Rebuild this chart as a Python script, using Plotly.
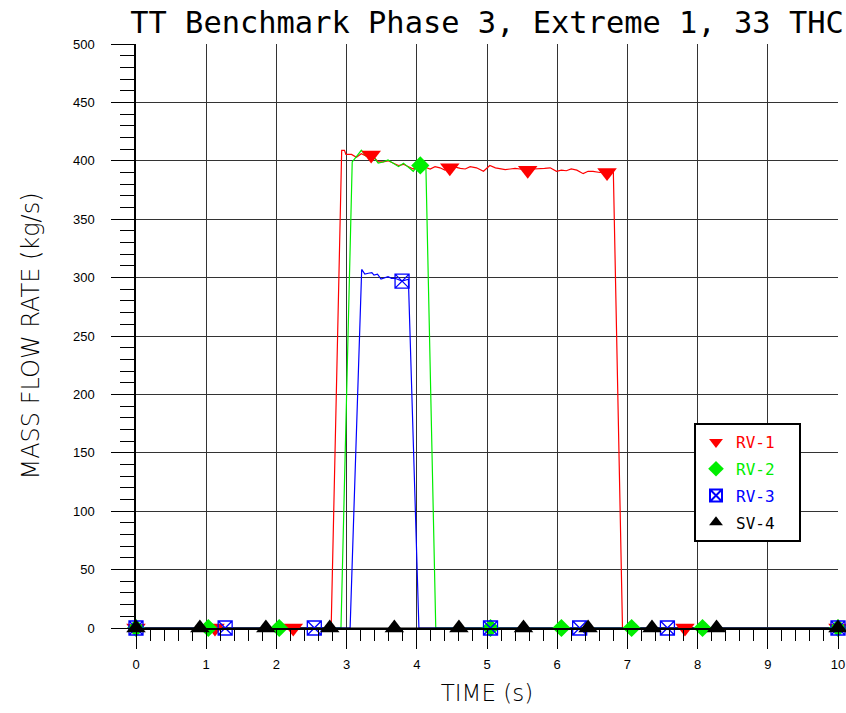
import plotly.graph_objects as go

# ---- data ----
t_rv1 = [0, 2.78, 2.93, 2.97, 2.99, 3.07, 3.14, 3.21, 3.28, 3.36, 3.45, 3.52, 3.59, 3.67, 3.74,
         3.81, 3.88, 3.95, 4.00, 4.05, 4.12, 4.19, 4.26, 4.33, 4.40, 4.47, 4.55, 4.62, 4.69,
         4.76, 4.85, 4.95, 5.04, 5.12, 5.19, 5.26, 5.33, 5.40, 5.47, 5.58, 5.66, 5.75, 5.82,
         5.90, 5.99, 6.06, 6.13, 6.20, 6.28, 6.37, 6.44, 6.51, 6.61, 6.70, 6.78, 6.80, 6.93, 10]
y_rv1 = [0, 0, 409, 409, 405.5, 405.5, 403, 406, 404, 405, 399, 399, 400, 398, 396,
         397, 395, 393, 395, 395, 394.5, 393, 395, 394, 392, 394, 394.5, 393.5, 393,
         395, 394, 391, 396, 394, 393, 392.5, 393, 393.5, 393, 392, 393, 393, 393.5,
         394, 391, 392, 391.5, 393, 392, 389, 391, 391, 390, 390, 391, 390, 0, 0]

t_rv2 = [0, 2.92, 3.08, 3.14, 3.21, 3.28, 3.36, 3.45, 3.52, 3.59, 3.67, 3.74, 3.81, 3.88,
         3.95, 4.00, 4.05, 4.13, 4.27, 10]
y_rv2 = [0, 0, 399, 403.5, 409, 404, 405, 398, 399, 400.7, 398, 395, 398, 394.5,
         391, 395, 396, 393.5, 0, 0]

t_rv3 = [0, 3.05, 3.215, 3.26, 3.31, 3.36, 3.39, 3.44, 3.49, 3.55, 3.59, 3.64, 3.69,
         3.79, 3.88, 4.03, 10]
y_rv3 = [0, 0, 307, 303, 303.7, 304.2, 302.2, 303, 298.8, 300.3, 300.8, 299.4, 299.4,
         297, 298.6, 0, 0]

t_sv4 = [0, 10]
y_sv4 = [0, 0]

# marker positions along each curve
mt_rv1 = [0, 1.125, 2.24, 3.35, 4.47, 5.58, 6.71, 7.82, 10]
my_rv1 = [0, 0, 0, 405, 394, 392, 390, 0, 0]
mt_rv2 = [0, 1.03, 2.04, 4.05, 5.05, 6.06, 7.06, 8.07, 10]
my_rv2 = [0, 0, 0, 396, 0, 0, 0, 0, 0]
mt_rv3 = [0, 1.27, 2.54, 3.79, 5.05, 6.32, 7.57, 10]
my_rv3 = [0, 0, 0, 297, 0, 0, 0, 0]
mt_sv4 = [0, 0.91, 1.85, 2.76, 3.68, 4.60, 5.52, 6.44, 7.35, 8.27, 10]
my_sv4 = [0] * 11

names = ["RV-1", "RV-2", "RV-3", "SV-4"]
colors = ["#ff0000", "#00ee00", "#0000ff", "#000000"]
symbols = ["triangle-down", "diamond", "square-x-open", "triangle-up"]
sizes = [17, 14, 14, 17]

x_ticks = list(range(0, 11))
y_ticks = list(range(0, 501, 50))

lines = [(t_rv1, y_rv1), (t_rv2, y_rv2), (t_rv3, y_rv3), (t_sv4, y_sv4)]
marks = [(mt_rv1, my_rv1), (mt_rv2, my_rv2), (mt_rv3, my_rv3), (mt_sv4, my_sv4)]

fig = go.Figure()
for (tx, ty), c in zip(lines, colors):
    fig.add_trace(go.Scatter(x=tx, y=ty, mode="lines", line=dict(color=c, width=1.2),
                             showlegend=False, hoverinfo="skip"))
for (tx, ty), n, c, s, sz in zip(marks, names, colors, symbols, sizes):
    mk = dict(symbol=s, size=sz, color=c)
    if s.endswith("open"):
        mk["line"] = dict(color=c, width=1.3)
    fig.add_trace(go.Scatter(x=tx, y=ty, mode="markers", marker=mk, legendgroup=n,
                             cliponaxis=False,
                             name=f"<span style='color:{c}'>{n}</span>&nbsp;&nbsp;"))

grid_col = "#333333"
fig.update_layout(
    width=846, height=713,
    margin=dict(l=136, r=8, t=44, b=85, autoexpand=False),
    paper_bgcolor="white", plot_bgcolor="white",
    title=dict(text="TT Benchmark Phase 3, Extreme 1, 33 THC",
               font=dict(family="DejaVu Sans Mono", size=30.4, color="black"),
               x=0.5, xref="paper", xanchor="center", y=1 - 22 / 713, yanchor="middle"),
    xaxis=dict(range=[0, 10], tickvals=x_ticks, ticks="outside", ticklen=19, tickwidth=1,
               tickcolor="black", showline=True, linecolor="black", linewidth=1.5,
               showgrid=True, gridcolor=grid_col, gridwidth=1, zeroline=False, automargin=False,
               tickfont=dict(family="Liberation Sans", size=13, color="black"),
               ticklabelstandoff=5,
               minor=dict(dtick=0.2, ticks="outside", ticklen=11, tickcolor="black", showgrid=False),
               title=dict(text="TIME (s)", standoff=14,
                          font=dict(family="DejaVu Sans", size=23, color="black", weight=200))),
    yaxis=dict(range=[0, 500], tickvals=y_ticks, ticks="outside", ticklen=23, tickwidth=1,
               tickcolor="black", showline=True, linecolor="black", linewidth=1.5,
               showgrid=True, gridcolor=grid_col, gridwidth=1, zeroline=False, automargin=False,
               tickfont=dict(family="Liberation Sans", size=13, color="black"),
               ticklabelstandoff=14,
               minor=dict(dtick=10, ticks="outside", ticklen=14, tickcolor="black", showgrid=False),
               title=dict(text="MASS FLOW RATE (kg/s)", standoff=27,
                          font=dict(family="DejaVu Sans", size=24, color="black", weight=200))),
    legend=dict(x=(694 - 136) / 702, y=(628 - 423) / 584, xanchor="left", yanchor="top",
                bgcolor="white", bordercolor="black", borderwidth=2,
                font=dict(family="DejaVu Sans Mono", size=16, color="black"),
                itemsizing="constant", tracegroupgap=3),
)

# remove the default 8px page margin so the figure fills the window exactly
fig.write_html("out.html", config={"displayModeBar": False},
               post_script="document.body.style.margin='0';document.body.style.overflow='hidden';")
